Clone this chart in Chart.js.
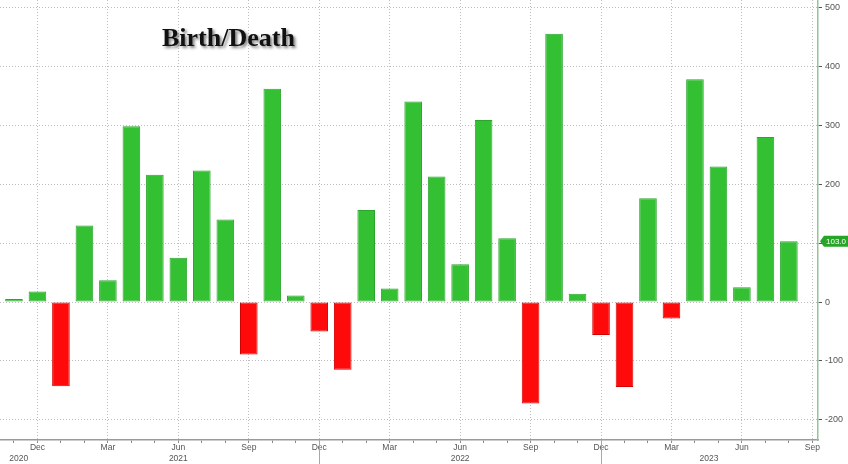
<!DOCTYPE html>
<html><head><meta charset="utf-8">
<script src="https://cdn.jsdelivr.net/npm/chart.js@4.4.1/dist/chart.umd.min.js"></script>
<style>html,body{margin:0;padding:0;background:#fff;overflow:hidden}#wrap{width:848px;height:464px;position:relative}</style>
</head><body><div id="wrap"><canvas id="c" width="848" height="464"></canvas></div>
<script>
// ---- data ----
const months = ['Oct 2020','Nov 2020','Dec 2020',
  'Jan 2021','Feb 2021','Mar 2021','Apr 2021','May 2021','Jun 2021','Jul 2021','Aug 2021','Sep 2021','Oct 2021','Nov 2021','Dec 2021',
  'Jan 2022','Feb 2022','Mar 2022','Apr 2022','May 2022','Jun 2022','Jul 2022','Aug 2022','Sep 2022','Oct 2022','Nov 2022','Dec 2022',
  'Jan 2023','Feb 2023','Mar 2023','Apr 2023','May 2023','Jun 2023','Jul 2023','Aug 2023','Sep 2023'];
const values = [346, 5, 18,
  -143, 130, 37, 298, 216, 75, 223, 140, -89, 362, 11, -50,
  -115, 156, 23, 340, 213, 64, 309, 108, -172, 455, 14, -56,
  -144, 176, -28, 378, 230, 25, 280, 103];
const yTicks = [-200, -100, 0, 100, 200, 300, 400, 500];
const monthTickNames = ['Dec', 'Mar', 'Jun', 'Sep'];
const yearLabels = ['2020', '2021', '2022', '2023'];
const yearTickAt = [1.2, 8, 20, 30.6];
const yearBreaks = ['Dec 2021', 'Dec 2022'];
const chartTitle = 'Birth/Death';

// ---- style ----
const GREEN = '#33c033', GREEN_B = '#2ba52b';
const RED = '#ff0a0a', RED_B = '#d40000';
const GRID = '#bdbdbd';
const X_MIN = 0.405, X_MAX = 35.24;

function zeroPad(s) { s.paddingLeft = 0; s.paddingRight = 0; s.paddingTop = 0; s.paddingBottom = 0; }

const deco = {
  id: 'deco',
  afterDraw(chart) {
    const { ctx, chartArea, scales } = chart;
    ctx.save();
    // year separators
    ctx.strokeStyle = '#a8a8a8'; ctx.lineWidth = 1;
    yearBreaks.forEach(m => {
      const x = Math.round(scales.x.getPixelForValue(months.indexOf(m))) + 0.5;
      ctx.beginPath(); ctx.moveTo(x, chartArea.bottom); ctx.lineTo(x, chart.height); ctx.stroke();
    });
    // last value badge
    const v = values[values.length - 1];
    const y = scales.y.getPixelForValue(v);
    const x0 = chartArea.right + 2, h = 11;
    ctx.fillStyle = '#28a428';
    ctx.beginPath();
    ctx.moveTo(x0, y); ctx.lineTo(x0 + 4, y - h / 2); ctx.lineTo(chart.width, y - h / 2);
    ctx.lineTo(chart.width, y + h / 2); ctx.lineTo(x0 + 4, y + h / 2); ctx.closePath(); ctx.fill();
    ctx.fillStyle = '#fff'; ctx.font = '8px "Liberation Sans"';
    ctx.textBaseline = 'middle'; ctx.textAlign = 'left';
    ctx.fillText(v.toFixed(1), x0 + 6, y + 0.5);
    // title
    ctx.font = 'bold 26px "Liberation Serif"';
    ctx.shadowColor = 'rgba(0,0,0,0.5)'; ctx.shadowOffsetX = 2; ctx.shadowOffsetY = 2; ctx.shadowBlur = 3;
    ctx.fillStyle = '#111'; ctx.textBaseline = 'alphabetic';
    ctx.fillText(chartTitle, 162, 46);
    ctx.restore();
  }
};

new Chart(document.getElementById('c'), {
  type: 'bar',
  data: {
    datasets: [{
      data: values.map((v, i) => ({ x: i, y: v })),
      backgroundColor: c => (c.raw && c.raw.y < 0) ? RED : GREEN,
      borderColor: c => (c.raw && c.raw.y < 0) ? RED_B : GREEN_B,
      borderWidth: 1,
      borderSkipped: false,
      categoryPercentage: 1,
      barPercentage: 0.75
    }]
  },
  options: {
    responsive: false,
    animation: false,
    devicePixelRatio: 1,
    layout: { padding: 0 },
    plugins: { legend: { display: false }, tooltip: { enabled: false }, title: { display: false } },
    scales: {
      x: {
        type: 'linear', position: 'bottom', min: X_MIN, max: X_MAX, offset: false, weight: 0,
        afterBuildTicks: s => { s.ticks = months.map((m, i) => ({ value: i })).filter(t => t.value >= s.min && t.value <= s.max); },
        afterFit: s => { s.height = 12; zeroPad(s); },
        ticks: {
          autoSkip: false, maxRotation: 0, padding: 0, color: '#555',
          font: { family: '"Liberation Sans"', size: 8.5 },
          callback: v => { const n = (months[v] || '').slice(0, 3); return monthTickNames.includes(n) ? n : ''; }
        },
        grid: {
          offset: false,
          color: c => (c.tick && monthTickNames.includes((months[c.tick.value] || '').slice(0, 3))) ? GRID : 'rgba(0,0,0,0)',
          tickColor: '#8a8a8a', tickLength: 3, lineWidth: 1, drawTicks: true
        },
        border: { display: true, color: '#9a9a9a', width: 1.5, dash: [1, 2] }
      },
      x2: {
        type: 'linear', position: 'bottom', min: X_MIN, max: X_MAX, offset: false, weight: 1,
        afterBuildTicks: s => { s.ticks = yearTickAt.map(v => ({ value: v })); },
        afterFit: s => { s.height = 12; zeroPad(s); },
        ticks: {
          autoSkip: false, maxRotation: 0, padding: 2, color: '#555',
          font: { family: '"Liberation Sans"', size: 8.5 },
          callback: (v, i) => yearLabels[i]
        },
        grid: { display: false, drawTicks: false, offset: false },
        border: { display: false }
      },
      y: {
        type: 'linear', position: 'right', min: -234.1, max: 512.4,
        afterBuildTicks: s => { s.ticks = yTicks.map(v => ({ value: v })); },
        afterFit: s => { s.width = 30; zeroPad(s); },
        ticks: {
          padding: 3, color: '#555',
          font: { family: '"Liberation Sans"', size: 9 },
          callback: v => String(v)
        },
        grid: { color: GRID, tickColor: '#555', tickLength: 4, lineWidth: 1 },
        border: { display: true, color: '#96c496', width: 1.5, dash: [1, 2] }
      }
    }
  },
  plugins: [deco]
});
</script>
</body></html>
